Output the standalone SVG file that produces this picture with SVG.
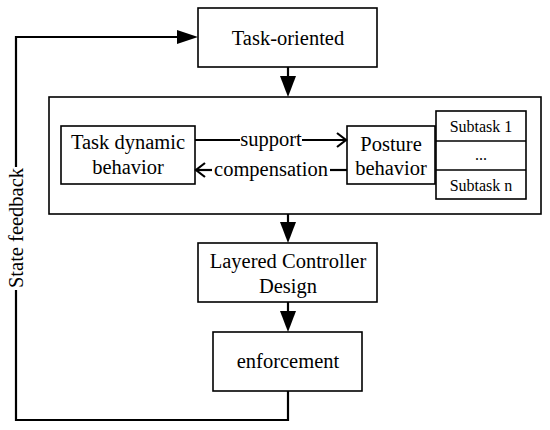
<svg xmlns="http://www.w3.org/2000/svg" width="550" height="430" viewBox="0 0 550 430">
<style>
.box{fill:#fff;stroke:#000;stroke-width:1.6}
.t{font-family:"Liberation Serif",serif;font-size:20.5px;fill:#000;text-anchor:middle}
.s{font-family:"Liberation Serif",serif;font-size:16px;fill:#000;text-anchor:middle}
.ln{fill:none;stroke:#000;stroke-width:2.2}
.ah{fill:#000;stroke:none}
</style>
<rect width="550" height="430" fill="#fff"/>
<g id="container"><rect class="box" x="49" y="97" width="492" height="117"/></g>
<g id="task-oriented"><rect class="box" x="198" y="8" width="179" height="59"/><text class="t" x="288" y="45">Task-oriented</text></g>
<g id="task-dynamic"><rect class="box" x="61" y="126" width="134" height="58"/><text class="t" x="128" y="149">Task dynamic</text><text class="t" x="128" y="174">behavior</text></g>
<g id="posture"><rect class="box" x="347" y="126" width="88" height="58"/><text class="t" x="391" y="151">Posture</text><text class="t" x="391" y="175">behavior</text></g>
<g id="subtasks"><rect class="box" x="436" y="111" width="90" height="88"/><line class="box" x1="436" y1="141" x2="526" y2="141"/><line class="box" x1="436" y1="170" x2="526" y2="170"/><text class="s" x="481" y="132">Subtask 1</text><text class="s" x="481" y="160">...</text><text class="s" x="481" y="191">Subtask n</text></g>
<g id="layered"><rect class="box" x="198" y="243" width="179" height="59"/><text class="t" x="288" y="268">Layered Controller</text><text class="t" x="288" y="293">Design</text></g>
<g id="enforcement"><rect class="box" x="213" y="332" width="149" height="59"/><text class="t" x="288" y="368">enforcement</text></g>
<g id="connectors">
<line class="ln" x1="288" y1="67" x2="288" y2="78"/><polygon class="ah" points="280,76 296,76 288,97"/>
<line class="ln" x1="288" y1="214" x2="288" y2="224"/><polygon class="ah" points="280,222 296,222 288,243"/>
<line class="ln" x1="288" y1="302" x2="288" y2="313"/><polygon class="ah" points="280,311 296,311 288,332"/>
<polyline class="ln" points="288,391 288,420 16,420 16,290"/>
<polyline class="ln" points="16,167 16,37 180,37"/><polygon class="ah" points="177,30 177,44 198,37"/>
<text class="t" transform="translate(23,228) rotate(-90)" x="0" y="0">State feedback</text>
<line class="ln" x1="195" y1="140" x2="240" y2="140"/><line class="ln" x1="302" y1="140" x2="346" y2="140"/><polyline class="ln" points="337,133 346,140 337,147"/>
<text class="t" x="271" y="146">support</text>
<line class="ln" x1="196" y1="170" x2="212" y2="170"/><polyline class="ln" points="205,163 196,170 205,177"/><line class="ln" x1="330" y1="170" x2="347" y2="170"/>
<text class="t" x="271" y="176">compensation</text>
</g>
</svg>
